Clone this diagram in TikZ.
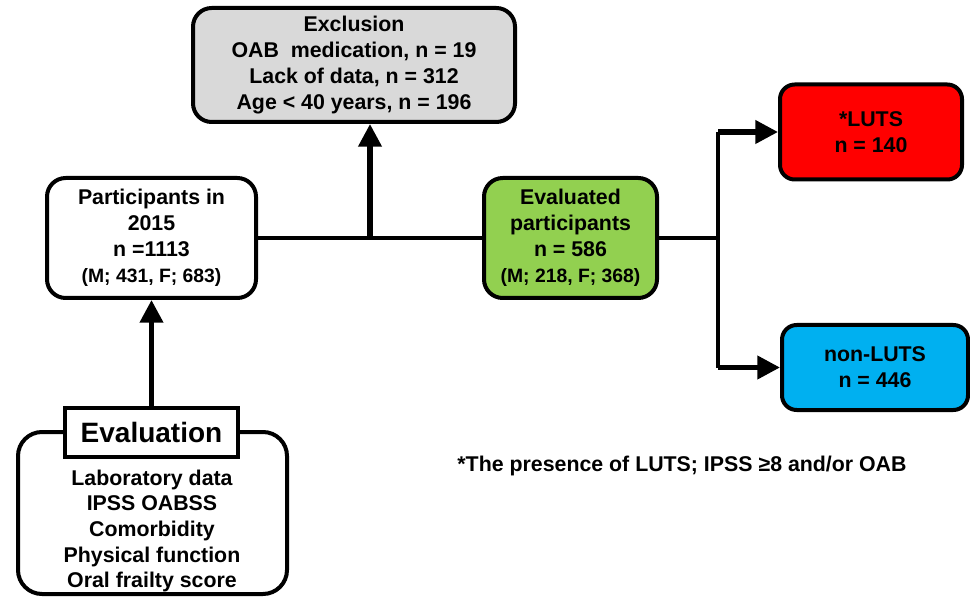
\documentclass[tikz,border=0pt]{standalone}
\usepackage{fontspec}
\setmainfont{Liberation Sans}
\usetikzlibrary{arrows.meta,calc}
\definecolor{exclgray}{HTML}{D9D9D9}
\definecolor{evalgreen}{HTML}{92D050}
\definecolor{lutsred}{HTML}{FF0000}
\definecolor{nonlutsblue}{HTML}{00B0F0}

\begin{document}
\begin{tikzpicture}[
  x=0.75pt, y=-0.75pt,
  block/.style={rounded corners=14pt, draw, line width=3pt, align=center,
                font=\fontsize{16}{19.5}\selectfont\bfseries, inner sep=0pt},
  link/.style={draw=black, line width=2.3pt},
  arr/.style={-{Triangle[length=17pt, width=17pt]}, draw=black, line width=3.8pt},
]
\useasboundingbox (0,0) rectangle (970,598);

\node[block, fill=exclgray, minimum width=241.5pt, minimum height=85.5pt] (excl) at (354,65)
  {Exclusion\\ OAB\ \ medication, n = 19\\ Lack of data, n = 312\\ Age < 40 years, n = 196};
\node[block, fill=white, minimum width=156.75pt, minimum height=90pt] (part) at (151.5,238)
  {Participants in\\ 2015\\ n =1113\\ {\fontsize{14.5}{19}\selectfont (M; 431, F; 683)}};
\node[block, fill=evalgreen, minimum width=129.75pt, minimum height=90pt] (evald) at (570.5,238)
  {Evaluated\\ participants\\ n = 586\\ {\fontsize{14.5}{19}\selectfont (M; 218, F; 368)}};
\node[block, fill=lutsred, rounded corners=11pt, minimum width=136.5pt, minimum height=71.25pt] (luts) at (871,132)
  {*LUTS\\ n = 140};
\node[block, fill=nonlutsblue, rounded corners=11pt, minimum width=139.5pt, minimum height=63.75pt] (nonluts) at (875,367.5)
  {non-LUTS\\ n = 446};

\node[block, fill=white, rounded corners=18pt, minimum width=201.75pt, minimum height=121.5pt] (evalbox) at (152.5,513) {};
\node[draw, line width=3pt, fill=white, minimum width=129.75pt, minimum height=36.75pt,
      font=\fontsize{21}{24}\selectfont\bfseries] (evaltitle) at (151.5,432) {Evaluation};
\node[align=center, font=\fontsize{16}{19.3}\selectfont\bfseries] (evallist) at (152,531)
  {Laboratory data\\ IPSS OABSS\\ Comorbidity\\ Physical function\\ Oral frailty score};

\node[font=\fontsize{16}{19}\selectfont\bfseries] (note) at (682,466)
  {*The presence of LUTS; IPSS ≥8 and/or OAB};

% connectors
\coordinate (split) at (370,238);
\coordinate (fork) at (718,238);
\draw[link] (part.east) -- (evald.west);
\draw[arr] (split) -- (split |- excl.south);
\draw[arr] (evaltitle) -- (part);
\draw[link] (evald.east) -- (fork);
\draw[draw=black, line width=3pt] (fork |- luts.west) -- (fork |- nonluts.west);
\draw[arr] (fork |- luts.west) -- (luts.west);
\draw[arr] (fork |- nonluts.west) -- (nonluts.west);

\end{tikzpicture}
\end{document}
